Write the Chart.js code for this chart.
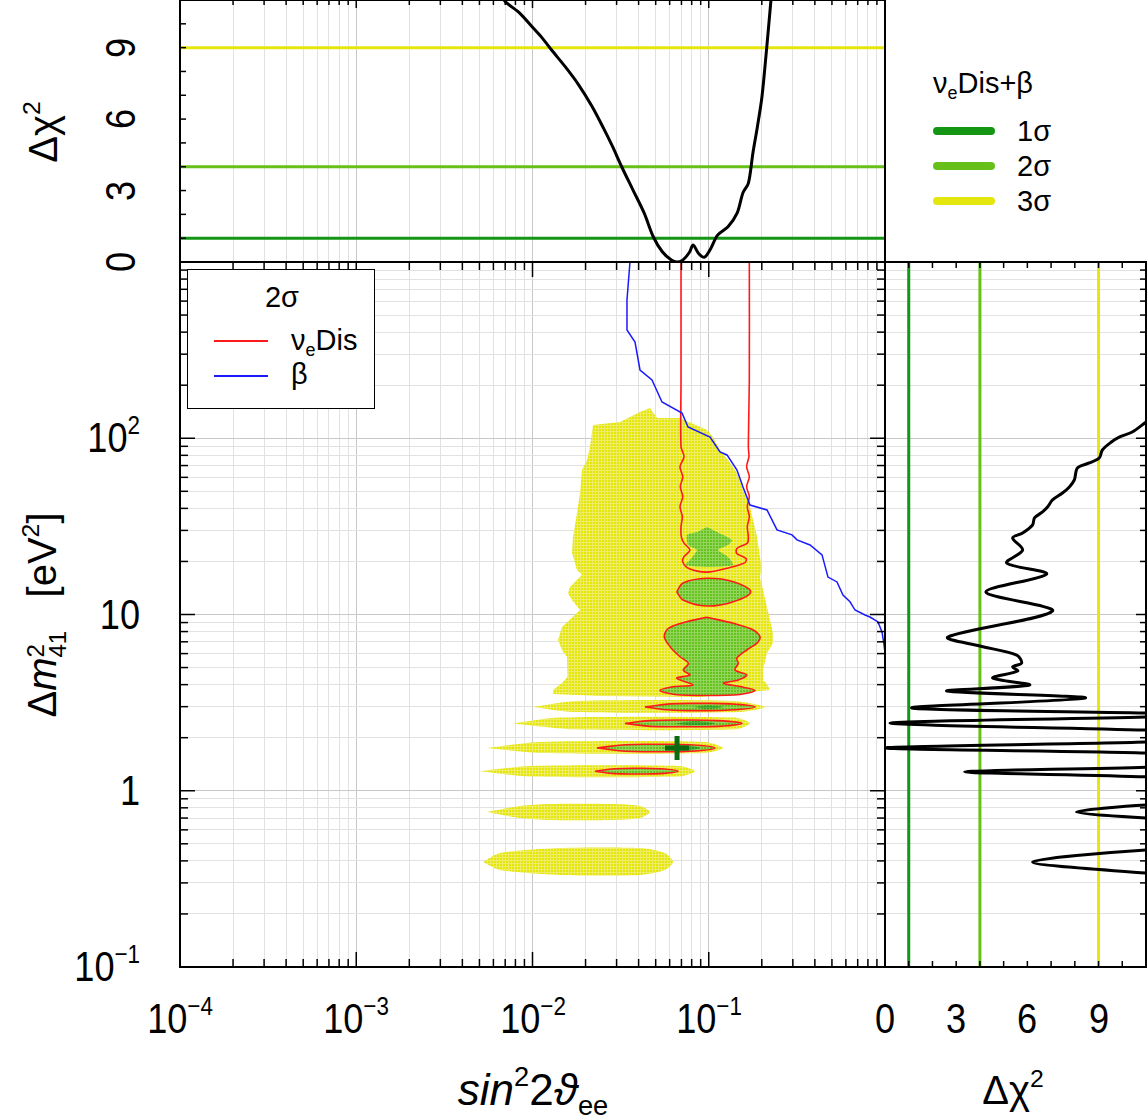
<!DOCTYPE html>
<html>
<head>
<meta charset="utf-8">
<title>sin^2 2theta_ee vs dm^2_41</title>
<script src="https://cdn.jsdelivr.net/npm/chart.js@4.4.1/dist/chart.umd.min.js"></script>
<style>
html, body { margin: 0; padding: 0; overflow: hidden; background: #fff; }
body { position: relative; width: 1148px; height: 1117px; font-family: "Liberation Sans", Arial, Helvetica, sans-serif; color: #000; }
canvas { position: absolute; }
#cTop { left: 170px; top: -10px; }
#cMain { left: 170px; top: 252px; }
#cRight { left: 875px; top: 252px; }
.lbl { position: absolute; white-space: nowrap; line-height: 1; font-size: 42px; }
.ttl { font-size: 40px; }
.sup { font-size: 0.62em; position: relative; top: -0.7em; }
.sub { font-size: 0.62em; position: relative; top: 0.35em; }
.leg { position: absolute; white-space: nowrap; line-height: 1; font-size: 29px; transform: translateY(-50%); }
.legline { position: absolute; }
</style>
</head>
<body>
<canvas id="cTop" width="725" height="282"></canvas>
<canvas id="cMain" width="725" height="725"></canvas>
<canvas id="cRight" width="281" height="725"></canvas>
<div id="labels"></div>

<div style="position:absolute;left:187px;top:269px;width:186px;height:138px;border:1.5px solid #000;background:#fff;">
  <div class="leg" style="left:94px;top:27px;transform:translate(-50%,-50%)">2σ</div>
  <div class="legline" style="left:26px;top:70px;width:54px;height:2px;background:#ff1a1a"></div>
  <div class="leg" style="left:103px;top:70px">ν<span class="sub">e</span>Dis</div>
  <div class="legline" style="left:26px;top:105px;width:54px;height:2px;background:#1a1aff"></div>
  <div class="leg" style="left:103px;top:104px">β</div>
</div>

<div class="leg" style="left:933px;top:83px">ν<span class="sub">e</span>Dis+β</div>
<div id="sigLegend"></div>

<script>
// tick positions / labels
const sinLabelVals = [1e-4, 1e-3, 1e-2, 1e-1];
const sinLabelExp = ['−4', '−3', '−2', '−1'];
const dmLabelVals = [0.1, 1, 10, 100];
const dmLabelBase = ['10', '1', '10', '10'];
const dmLabelExp = ['−1', '', '', '2'];
const chiLabelVals = [0, 3, 6, 9];

// confidence levels (nu_e Dis + beta)
const sigmaLevels = [1, 4, 9];
const sigmaNames = ['1σ', '2σ', '3σ'];
const sigmaColors = ['#149614', '#66c019', '#e6e60f'];

// best fit point
const bestSin = 0.0661;
const bestDm = 1.75;

// 3 sigma allowed region (yellow): main blob and islands
const blobSin = [0.02204,0.02119,0.02038,0.01909,0.0186,0.01789,0.01697,0.01675,0.01789,0.01909,0.01632,0.0159,0.01675,0.0186,0.0147,0.01395,0.0147,0.0157,0.0157,0.0159,0.0147,0.01307,0.01307,0.02415,0.0892,0.2226,0.214,0.2031,0.2031,0.214,0.2314,0.2314,0.2226,0.214,0.2031,0.1953,0.2004,0.1953,0.1878,0.1783,0.1714,0.1564,0.1446,0.1286,0.1158,0.1057,0.09775,0.06869,0.05087,0.04642,0.04073,0.03136];
const blobDm = [118.9,89.2,75.3,66.0,48.9,37.7,27.5,22.3,17.9,16.8,14.3,13.2,12.1,10.6,8.49,7.17,6.29,5.74,4.84,4.42,4.09,3.73,3.54,3.45,3.40,3.73,4.03,4.25,4.84,6.05,6.89,7.85,9.31,11.0,13.8,16.3,18.6,21.2,27.5,34.4,40.7,50.9,63.5,75.3,85.8,101.6,111.4,130.3,130.3,148.5,140.9,123.6];
const bandBSin = [0.01006,0.01789,0.1373,0.2085,0.1504,0.01697];
const bandBDm = [2.99,3.23,3.23,2.99,2.80,2.80];
const bandCSin = [0.007752,0.01432,0.1409,0.1714,0.1409,0.01742];
const bandCDm = [2.41,2.60,2.60,2.41,2.23,2.23];
const bandDSin = [0.005517,0.01103,0.0953,0.1205,0.0953,0.01103];
const bandDDm = [1.75,1.89,1.89,1.75,1.64,1.64];
const bandESin = [0.005036,0.009678,0.06869,0.08356,0.06869,0.009678];
const bandEDm = [1.29,1.38,1.38,1.29,1.205,1.205];
const bandFSin = [0.005517,0.0085,0.01257,0.02753,0.04073,0.04642,0.04073,0.02753,0.01257,0.0085];
const bandFDm = [0.758,0.820,0.841,0.841,0.820,0.758,0.700,0.682,0.682,0.700];
const bandGSin = [0.005237,0.00654,0.01432,0.04073,0.05646,0.06268,0.05646,0.04073,0.01432,0.00654];
const bandGDm = [0.394,0.443,0.473,0.473,0.443,0.394,0.355,0.333,0.333,0.355];

// 2 sigma region (green) upper piece
const vaseSin = [0.09775,0.1114,0.1355,0.1286,0.1129,0.1286,0.1373,0.0978,0.0733,0.0782,0.0858,0.0763,0.0753,0.0858];
const vaseDm = [31.4,29.4,26.5,24.8,23.2,21.2,19.1,18.6,19.1,20.4,23.2,24.8,28.3,29.4];

// 1 sigma patches (dark green)
const d707Sin = [0.0814,0.0990,0.1205,0.0990];
const d707Dm = [2.99,3.05,2.99,2.92];
const d723Sin = [0.0643,0.0836,0.1085,0.0836];
const d723Dm = [2.41,2.48,2.41,2.35];
const d748Sin = [0.0543,0.0696,0.0892,0.0696];
const d748Dm = [1.75,1.811,1.75,1.687];

// nu_e Dis 2 sigma contours (red)
const c1Sin = [0.0696,0.0696,0.0696,0.0724,0.0687,0.0712,0.0690,0.0712,0.0687,0.0708,0.0696,0.0699,0.0724,0.0782,0.0724,0.0712,0.0766,0.0973,0.132,0.1606,0.1627,0.1441,0.1444,0.1655,0.1677,0.1655,0.1699,0.1655,0.1699,0.1640,0.1699,0.1640,0.1690,0.1677,0.1699,0.1699];
const c1Dm = [1000,214,89.6,78.6,68.9,60.5,53.1,46.6,40.9,35.9,31.5,27.6,25.4,23.2,21.3,19.9,18.3,17.4,18.5,19.7,20.8,22.2,23.7,25.4,27.6,31.5,35.9,40.9,46.6,53.1,60.5,68.9,78.6,89.6,214,1000];
const c2Sin = [0.0658,0.0714,0.0973,0.1378,0.1730,0.1378,0.0973,0.0714];
const c2Dm = [13.47,15.09,16.05,15.35,13.47,11.82,11.17,12.09];
const c3Sin = [0.0973,0.1378,0.1790,0.1953,0.1871,0.1642,0.1441,0.1471,0.1409,0.1642,0.1471,0.1210,0.1504,0.1830,0.1504,0.0978,0.0643,0.0529,0.0643,0.0817,0.0658,0.0782,0.0717,0.0766,0.0687,0.0603,0.0559,0.0590,0.0750];
const c3Dm = [9.64,8.92,8.17,7.48,6.86,6.29,5.64,5.28,4.84,4.54,4.25,4.07,3.90,3.71,3.52,3.47,3.52,3.71,3.90,3.98,4.35,4.54,4.84,5.28,5.76,6.57,7.48,8.35,9.10];
const e707Sin = [0.04347,0.0603,0.0892,0.1320,0.1830,0.1320,0.0892,0.0603];
const e707Dm = [2.99,3.11,3.13,3.11,2.99,2.87,2.85,2.87];
const e723Sin = [0.03348,0.04642,0.0714,0.1129,0.1544,0.1129,0.0714,0.04642];
const e723Dm = [2.41,2.50,2.52,2.50,2.41,2.32,2.31,2.32];
const e748Sin = [0.02323,0.03348,0.0502,0.0782,0.1085,0.0782,0.0502,0.03348];
const e748Dm = [1.75,1.825,1.835,1.825,1.75,1.674,1.665,1.674];
const e771Sin = [0.02262,0.02938,0.03916,0.0529,0.06691,0.0529,0.03916,0.02938];
const e771Dm = [1.291,1.332,1.341,1.332,1.291,1.251,1.245,1.251];

// beta 2 sigma bound (blue)
const betaSin = [0.03573,0.03436,0.03436,0.03816,0.04073,0.04764,0.0543,0.0705,0.07627,0.1017,0.1158,0.1269,0.1446,0.1564,0.1714,0.214,0.2439,0.2968,0.3168,0.3755,0.4392,0.4749,0.5341,0.5776,0.6328,0.6759,0.7701,0.8221,0.9127,0.9616,0.9842,1.0];
const betaDm = [1000,608.6,411.4,351.6,243.9,214,160.6,139.1,115.8,101.6,83.6,80.4,66.0,52.9,41.8,39.2,30.2,28.3,26.5,24.8,21.8,16.3,15.3,12.9,11.8,10.6,9.94,9.68,9.07,7.96,6.89,6.05];

// marginal delta chi^2 vs sin^2 (top panel)
const topSin = [0.0055,0.006873,0.008461,0.0101,0.01137,0.0128,0.01529,0.01827,0.02178,0.02528,0.02844,0.03201,0.03712,0.04303,0.04845,0.05451,0.06138,0.06587,0.07117,0.07773,0.08149,0.08757,0.0946,0.1027,0.1122,0.1286,0.1448,0.1564,0.1679,0.178,0.1888,0.2005,0.2127,0.2254,0.238];
const topChi = [12.3,11.01,10.45,9.82,9.40,8.91,8.21,7.44,6.53,5.62,4.85,4.01,3.03,2.05,1.06,0.43,0.08,0.0,0.08,0.41,0.71,0.36,0.20,0.57,1.13,1.48,2.05,2.91,3.31,4.57,5.68,6.95,8.91,11.0,13.0];

// marginal delta chi^2 vs dm^2 (right panel)
const rightChi = [13.2,11.0,10.42,9.87,9.54,9.16,9.03,8.61,8.11,7.98,7.77,7.48,7.06,6.85,6.64,6.30,6.22,5.80,5.38,5.80,5.13,6.81,4.25,7.06,2.65,3.99,5.55,5.76,5.38,5.59,4.54,6.09,2.61,8.45,1.13,11.0,13.0,11.0,0.21,11.0,18,11.0,0.0,11.0,18,11.0,3.36,11.0,25,11.0,8.07,11.0,25,11.0,6.22,11.0,25,40];
const rightDm = [200,123.6,108.5,101.6,95.2,85.8,77.3,72.4,67.8,58.0,52.9,48.9,44.7,40.7,38.2,35.3,32.2,29.0,27.2,23.2,19.6,16.97,13.4,10.46,7.45,6.63,5.89,5.31,5.04,4.78,4.36,3.98,3.68,3.36,2.95,2.76,2.69,2.62,2.42,2.21,2.05,1.89,1.75,1.64,1.494,1.36,1.28,1.20,0.997,0.830,0.757,0.700,0.569,0.461,0.394,0.341,0.24,0.1];

// ---------- helpers ----------
function logTicks(lo, hi) {
    var out = [];
    for (var e = lo; e < hi; e++) {
        for (var m = 1; m < 10; m++) out.push(m * Math.pow(10, e));
    }
    out.push(Math.pow(10, hi));
    return out;
}
var sinTicks = logTicks(-4, 0);
var dmTicks = logTicks(-1, 3);
var chiTicks = [0, 1, 2, 3, 4, 5, 6, 7, 8, 9, 10, 11];

function isDecade(v) {
    var l = Math.log10(v);
    return Math.abs(l - Math.round(l)) < 1e-9;
}

function pts(xs, ys) {
    return xs.map(function (x, i) { return {x: x, y: ys[i]}; });
}
function closed(xs, ys) {
    var p = pts(xs, ys);
    p.push({x: xs[0], y: ys[0]});
    return p;
}

function logAxis(min, max, ticks, grid) {
    return {
        type: 'logarithmic', min: min, max: max,
        afterBuildTicks: function (s) { s.ticks = ticks.map(function (v) { return {value: v}; }); },
        ticks: {display: false},
        grid: {
            display: grid, drawTicks: false, lineWidth: 1,
            color: function (c) { return c.tick && isDecade(c.tick.value) ? '#c8c8c8' : '#e2e2e2'; }
        },
        border: {display: false}
    };
}
function linAxis(min, max, ticks) {
    return {
        type: 'linear', min: min, max: max,
        afterBuildTicks: function (s) { s.ticks = ticks.map(function (v) { return {value: v}; }); },
        ticks: {display: false},
        grid: {display: false, drawTicks: false},
        border: {display: false}
    };
}

// inward tick marks + frame
function makeFrame(marks) {
    return {
        id: 'frame',
        afterDatasetsDraw: function (chart) {
            var ctx = chart.ctx, a = chart.chartArea;
            ctx.save();
            ctx.strokeStyle = '#000';
            ctx.lineWidth = 1.5;
            marks.forEach(function (m) {
                var s = chart.scales[m.axis];
                m.values.forEach(function (v) {
                    var p = s.getPixelForValue(v);
                    var len = (m.log && isDecade(v)) ? m.long : m.short;
                    ctx.beginPath();
                    if (m.side === 'bottom') { ctx.moveTo(p, a.bottom); ctx.lineTo(p, a.bottom - len); }
                    else if (m.side === 'top') { ctx.moveTo(p, a.top); ctx.lineTo(p, a.top + len); }
                    else if (m.side === 'left') { ctx.moveTo(a.left, p); ctx.lineTo(a.left + len, p); }
                    else { ctx.moveTo(a.right, p); ctx.lineTo(a.right - len, p); }
                    ctx.stroke();
                });
            });
            ctx.lineWidth = 2;
            ctx.strokeRect(a.left, a.top, a.right - a.left, a.bottom - a.top);
            ctx.restore();
        }
    };
}

function texture(ctx, base, light) {
    var c = document.createElement('canvas');
    c.width = 3; c.height = 3;
    var g = c.getContext('2d');
    g.fillStyle = base; g.fillRect(0, 0, 3, 3);
    g.fillStyle = light; g.fillRect(2, 0, 1, 3); g.fillRect(0, 2, 3, 1);
    return ctx.createPattern(c, 'repeat');
}

var baseOptions = function (scales, pad) {
    return {
        responsive: false, animation: false, events: [],
        layout: {padding: pad, autoPadding: false},
        plugins: {legend: {display: false}, tooltip: {enabled: false}},
        scales: scales
    };
};

// ---------- main panel ----------
var mainCtx = document.getElementById('cMain').getContext('2d');
var yellow = texture(mainCtx, '#e5e50a', '#eded66');
var green = texture(mainCtx, '#66c21e', '#93d55c');
var dark = texture(mainCtx, '#2b9a1c', '#4fae40');

function area(xs, ys, fillStyle, order, tension) {
    return {data: closed(xs, ys), fill: 'shape', backgroundColor: fillStyle, borderColor: 'rgba(0,0,0,0)',
        borderWidth: 0, pointRadius: 0, tension: tension || 0, order: order};
}
function curve(data, color, width, order, tension) {
    return {data: data, fill: false, borderColor: color, borderWidth: width, pointRadius: 0,
        tension: tension, order: order};
}

var mainSets = [
    area(blobSin, blobDm, yellow, 20),
    area(bandBSin, bandBDm, yellow, 20, 0.25),
    area(bandCSin, bandCDm, yellow, 20, 0.25),
    area(bandDSin, bandDDm, yellow, 20, 0.25),
    area(bandESin, bandEDm, yellow, 20, 0.25),
    area(bandFSin, bandFDm, yellow, 20, 0.25),
    area(bandGSin, bandGDm, yellow, 20, 0.25),
    area(vaseSin, vaseDm, green, 15, 0.2),
    area(c2Sin, c2Dm, green, 15, 0.35),
    area(c3Sin, c3Dm, green, 15, 0.3),
    area(e707Sin, e707Dm, green, 15, 0.4),
    area(e723Sin, e723Dm, green, 15, 0.4),
    area(e748Sin, e748Dm, green, 15, 0.4),
    area(e771Sin, e771Dm, green, 15, 0.4),
    area(d707Sin, d707Dm, dark, 12, 0.4),
    area(d723Sin, d723Dm, dark, 12, 0.4),
    area(d748Sin, d748Dm, dark, 12, 0.4),
    curve(pts(c1Sin, c1Dm), '#ff1a1a', 1.6, 5, 0.3),
    curve(closed(c2Sin, c2Dm), '#ff1a1a', 1.6, 5, 0.35),
    curve(closed(c3Sin, c3Dm), '#ff1a1a', 1.6, 5, 0.3),
    curve(closed(e707Sin, e707Dm), '#ff1a1a', 1.6, 5, 0.4),
    curve(closed(e723Sin, e723Dm), '#ff1a1a', 1.6, 5, 0.4),
    curve(closed(e748Sin, e748Dm), '#ff1a1a', 1.6, 5, 0.4),
    curve(closed(e771Sin, e771Dm), '#ff1a1a', 1.6, 5, 0.4),
    curve(pts(betaSin, betaDm), '#1a1aff', 1.5, 4, 0),
    {data: [{x: bestSin, y: bestDm}], showLine: false, pointStyle: 'cross', pointRadius: 12,
        pointBorderWidth: 5, pointBorderColor: '#0d6a10', order: 0}
];

var mainChart = new Chart(mainCtx, {
    type: 'line',
    data: {datasets: mainSets},
    options: baseOptions({
        x: logAxis(1e-4, 1, sinTicks, true),
        y: logAxis(0.1, 1000, dmTicks, true)
    }, 10),
    plugins: [makeFrame([
        {axis: 'x', side: 'bottom', values: sinTicks, log: true, long: 15, short: 8},
        {axis: 'x', side: 'top', values: sinTicks, log: true, long: 15, short: 8},
        {axis: 'y', side: 'left', values: dmTicks, log: true, long: 15, short: 8},
        {axis: 'y', side: 'right', values: dmTicks, log: true, long: 15, short: 8}
    ])]
});

// ---------- top panel ----------
var topSets = sigmaLevels.map(function (L, i) {
    return curve([{x: 1e-4, y: L}, {x: 1, y: L}], sigmaColors[i], 3, 2, 0);
});
topSets.push(curve(pts(topSin, topChi), '#000', 3, 1, 0.3));

var topChart = new Chart(document.getElementById('cTop'), {
    type: 'line',
    data: {datasets: topSets},
    options: baseOptions({
        x: logAxis(1e-4, 1, sinTicks, true),
        y: linAxis(0, 11, chiTicks)
    }, 10),
    plugins: [makeFrame([
        {axis: 'x', side: 'top', values: sinTicks, log: true, long: 8, short: 5},
        {axis: 'y', side: 'left', values: chiTicks, log: false, long: 6, short: 6}
    ])]
});

// ---------- right panel ----------
var rightSets = sigmaLevels.map(function (L, i) {
    return curve([{x: L, y: 0.1}, {x: L, y: 1000}], sigmaColors[i], 3, 2, 0);
});
rightSets.push(curve(pts(rightChi, rightDm), '#000', 3, 1, 0.3));

var rightChart = new Chart(document.getElementById('cRight'), {
    type: 'line',
    data: {datasets: rightSets},
    options: baseOptions({
        x: linAxis(0, 11, chiTicks),
        y: logAxis(0.1, 1000, dmTicks, true)
    }, 10),
    plugins: [makeFrame([
        {axis: 'x', side: 'top', values: chiTicks, log: false, long: 6, short: 6},
        {axis: 'x', side: 'bottom', values: chiTicks, log: false, long: 6, short: 6},
        {axis: 'y', side: 'right', values: dmTicks, log: true, long: 10, short: 6}
    ])]
});

// ---------- text labels ----------
var holder = document.getElementById('labels');
function put(html, x, y, transform, cls, origin) {
    var d = document.createElement('div');
    d.className = 'lbl' + (cls ? ' ' + cls : '');
    d.innerHTML = html;
    d.style.left = x + 'px';
    d.style.top = y + 'px';
    d.style.transform = transform;
    if (origin) d.style.transformOrigin = origin;
    holder.appendChild(d);
}

var narrow = ' scaleX(0.86)';
sinLabelVals.forEach(function (v, i) {
    put('10<span class="sup">' + sinLabelExp[i] + '</span>', 170 + mainChart.scales.x.getPixelForValue(v), 1019, 'translate(-50%,-50%)' + narrow);
});
dmLabelVals.forEach(function (v, i) {
    var t = dmLabelBase[i] + (dmLabelExp[i] ? '<span class="sup">' + dmLabelExp[i] + '</span>' : '');
    put(t, 140, 252 + mainChart.scales.y.getPixelForValue(v), 'translate(-100%,-50%)' + narrow, '', 'right center');
});
chiLabelVals.forEach(function (v) {
    put(String(v), 875 + rightChart.scales.x.getPixelForValue(v), 1019, 'translate(-50%,-50%)' + narrow);
    put(String(v), 121, -10 + topChart.scales.y.getPixelForValue(v), 'translate(-50%,-50%) rotate(-90deg)' + narrow);
});

put('<i>sin</i><span class="sup">2</span>2<i>ϑ</i><span class="sub">ee</span>', 533, 1090, 'translate(-50%,-50%)', 'ttl', null);
document.querySelector('#labels .lbl:last-child').style.fontSize = '44px';
put('Δχ<span class="sup">2</span>', 1013, 1090, 'translate(-50%,-50%)', 'ttl');
put('Δχ<span class="sup">2</span>', 43, 132, 'translate(-50%,-50%) rotate(-90deg)', 'ttl');
put('Δ<i>m</i><span style="display:inline-block;vertical-align:-10px;font-size:24px;line-height:22px;text-align:left"><span style="display:block">2</span><span style="display:block">41</span></span>&nbsp;&nbsp;&nbsp;[eV<span class="sup">2</span>]',
    45, 615, 'translate(-50%,-50%) rotate(-90deg)', 'ttl');

// sigma legend (top right)
var sl = document.getElementById('sigLegend');
[131, 166, 201].forEach(function (y, i) {
    var line = document.createElement('div');
    line.className = 'legline';
    line.style.cssText = 'left:933px;top:' + (y - 4) + 'px;width:62px;height:8px;border-radius:4px;background:' + sigmaColors[i];
    sl.appendChild(line);
    var t = document.createElement('div');
    t.className = 'leg';
    t.style.left = '1017px';
    t.style.top = y + 'px';
    t.textContent = sigmaNames[i];
    sl.appendChild(t);
});
</script>
</body>
</html>
